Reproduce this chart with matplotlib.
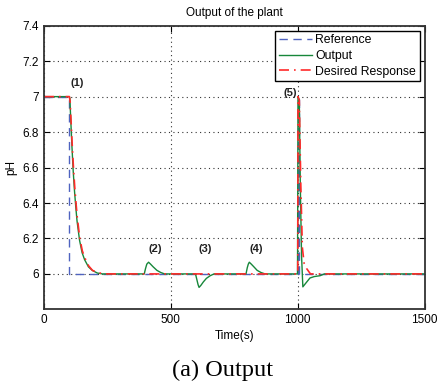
import matplotlib
matplotlib.use('Agg')
import matplotlib.pyplot as plt

# Data
ref_t = [0, 100, 100, 1000, 1000, 1005, 1005, 1500]
ref_y = [7, 7, 6, 6, 7, 7, 6, 6]

out_t = [0, 100, 102, 105, 110, 115, 120, 125, 130, 140, 150, 160, 175, 190, 210, 230,
         395, 400, 405, 412, 420, 430, 445, 460, 475,
         597, 602, 607, 611, 618, 628, 640, 655, 670,
         796, 801, 805, 809, 817, 827, 840, 855, 871,
         999, 1001, 1006, 1010, 1015, 1020, 1030, 1048, 1065, 1088, 1105, 1500]
out_y = [7, 7, 6.99, 6.88, 6.72, 6.58, 6.47, 6.38, 6.30, 6.19, 6.12, 6.08, 6.04, 6.02, 6.005, 6.0,
         6.0, 6.03, 6.055, 6.066, 6.055, 6.04, 6.02, 6.008, 6.0,
         6.0, 5.97, 5.94, 5.924, 5.935, 5.955, 5.975, 5.99, 6.0,
         6.0, 6.035, 6.055, 6.066, 6.055, 6.04, 6.02, 6.008, 6.0,
         6.0, 7.0, 6.98, 6.5, 6.1, 5.927, 5.945, 5.977, 5.985, 5.99, 6.0, 6.0]

des_t = [0, 100, 103, 106, 111, 116, 121, 126, 131, 141, 151, 161, 176, 191, 211, 240,
         1000, 1001, 1006, 1012, 1018, 1025, 1035, 1050, 1500]
des_y = [7, 7, 6.97, 6.88, 6.73, 6.60, 6.49, 6.40, 6.32, 6.20, 6.13, 6.09, 6.045, 6.02, 6.007, 6.0,
         6.0, 7.0, 6.98, 6.5, 6.15, 6.06, 6.03, 6.0, 6.0]

labels = ['(1)', '(2)', '(3)', '(4)', '(5)']
label_t = [129, 437, 634, 836, 970]
label_y = [7.076, 6.143, 6.143, 6.143, 7.02]

plt.rcParams['font.family'] = ['Liberation Sans', 'DejaVu Sans']

fig = plt.figure(figsize=(4.38, 3.81), dpi=100)
ax = fig.add_axes([0.1005, 0.188, 0.869, 0.7445])

ax.plot(ref_t, ref_y, color='#4f63c0', linestyle=(0, (6, 4)), linewidth=1.0, label='Reference')
ax.plot(out_t, out_y, color='#17873a', linestyle='-', linewidth=1.0, label='Output')
ax.plot(des_t, des_y, color='#ff2a2a', linestyle=(0, (6, 3, 1, 3)), linewidth=1.2, label='Desired Response')

for s, x, y in zip(labels, label_t, label_y):
    ax.text(x, y, s, fontsize=8, fontweight='bold', ha='center', va='center', color='#222222')

ax.set_xlim(0, 1500)
ax.set_ylim(5.8, 7.4)
ax.set_xticks([0, 500, 1000, 1500])
ax.set_yticks([6, 6.2, 6.4, 6.6, 6.8, 7, 7.2, 7.4])
ax.set_yticklabels(['6', '6.2', '6.4', '6.6', '6.8', '7', '7.2', '7.4'])
ax.tick_params(direction='in', top=True, right=True, labelsize=8.5, length=4)
ax.grid(True, linestyle=(0, (1, 3)), color='#333333', linewidth=0.8)
for sp in ax.spines.values():
    sp.set_linewidth(1.3)
    sp.set_color('#333333')

ax.set_title('Output of the plant', fontsize=8.5, pad=7)
ax.set_xlabel('Time(s)', fontsize=8.5, labelpad=3)
ax.set_ylabel('pH', fontsize=8.5, labelpad=4)

leg = ax.legend(loc='upper right', fontsize=8.8, fancybox=False, framealpha=1,
                edgecolor='black', borderpad=0.3, labelspacing=0.3,
                handlelength=2.7, handletextpad=0.3, borderaxespad=0.4)
leg.get_frame().set_linewidth(1.0)

fig.text(0.509, 0.012, '(a) Output', fontsize=17.5, family='Liberation Serif',
         ha='center', va='baseline')

fig.savefig('out.png', dpi=100)
